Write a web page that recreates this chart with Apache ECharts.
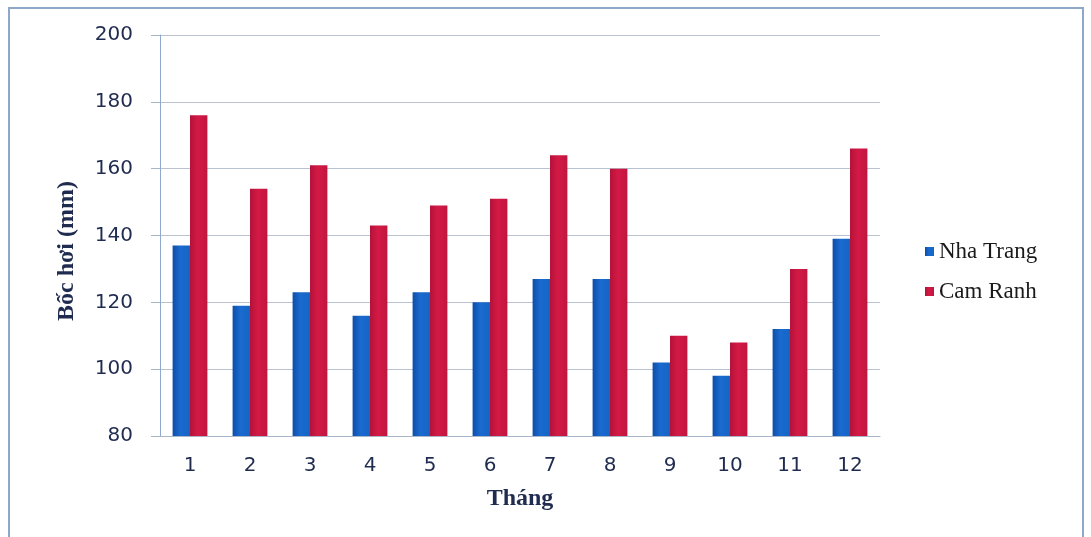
<!DOCTYPE html>
<html>
<head>
<meta charset="utf-8">
<script src="https://cdn.jsdelivr.net/npm/echarts@6/dist/echarts.min.js"></script>
<style>
  html, body { margin: 0; padding: 0; background: #ffffff; }
  #chart { width: 1091px; height: 537px; }
</style>
</head>
<body>
<div id="chart"></div>
<script>
// Monthly evaporation (mm) at two stations
const months = ['1', '2', '3', '4', '5', '6', '7', '8', '9', '10', '11', '12'];
const nhaTrang = [137, 119, 123, 116, 123, 120, 127, 127, 102, 98, 112, 139];
const camRanh = [176, 154, 161, 143, 149, 151, 164, 160, 110, 108, 130, 166];
const yTicks = { min: 80, max: 200, step: 20 };

const chart = echarts.init(document.getElementById('chart'), null, { renderer: 'canvas' });

function barGradient(dark, mid, light) {
  return new echarts.graphic.LinearGradient(0, 0, 1, 0, [
    { offset: 0, color: dark },
    { offset: 0.45, color: mid },
    { offset: 1, color: light }
  ]);
}

const navy = '#1f2b4f';

chart.setOption({
  animation: false,
  backgroundColor: '#ffffff',
  graphic: [
    {
      type: 'rect',
      shape: { x: 9, y: 8, width: 1074, height: 540 },
      style: { fill: 'none', stroke: '#8fa8c8', lineWidth: 2 },
      silent: true
    },
    {
      // vertical axis title
      type: 'text',
      x: 67,
      y: 251,
      rotation: Math.PI / 2,
      style: {
        text: 'Bốc hơi (mm)',
        fontFamily: 'Liberation Serif',
        fontWeight: 'bold',
        fontSize: 24,
        fill: navy,
        align: 'center',
        verticalAlign: 'middle'
      },
      silent: true
    }
  ],
  grid: { left: 160, top: 35, width: 720, height: 401 },
  legend: {
    orient: 'vertical',
    left: 920,
    top: 235,
    itemWidth: 9,
    itemHeight: 9,
    itemGap: 17,
    icon: 'rect',
    textStyle: { fontFamily: 'Liberation Serif', fontSize: 23, color: '#1a1a1a' },
    data: ['Nha Trang', 'Cam Ranh']
  },
  xAxis: {
    type: 'category',
    data: months,
    name: 'Tháng',
    nameLocation: 'middle',
    nameGap: 51,
    nameTextStyle: { fontFamily: 'Liberation Serif', fontWeight: 'bold', fontSize: 24, color: navy },
    axisLine: { lineStyle: { color: '#a9b6c8', width: 1 } },
    axisTick: { show: false },
    axisLabel: { fontFamily: 'DejaVu Sans', fontSize: 20, color: navy, margin: 20 }
  },
  yAxis: {
    type: 'value',
    min: yTicks.min,
    max: yTicks.max,
    interval: yTicks.step,
    axisLine: { show: true, lineStyle: { color: '#8ea8cf', width: 1 } },
    axisTick: { show: true, length: 9, lineStyle: { color: '#a9b6c8' } },
    axisLabel: { fontFamily: 'DejaVu Sans', fontSize: 20, color: navy, margin: 27 },
    splitLine: { lineStyle: { color: '#b8c2d0', width: 1.2 } }
  },
  series: [
    {
      name: 'Nha Trang',
      type: 'bar',
      data: nhaTrang,
      barGap: '0%',
      barCategoryGap: '42%',
      itemStyle: { color: barGradient('#0d4fa8', '#1a6ad0', '#1565c4') }
    },
    {
      name: 'Cam Ranh',
      type: 'bar',
      data: camRanh,
      itemStyle: { color: barGradient('#b3123a', '#d41a46', '#c0163f') }
    }
  ]
});
</script>
</body>
</html>
